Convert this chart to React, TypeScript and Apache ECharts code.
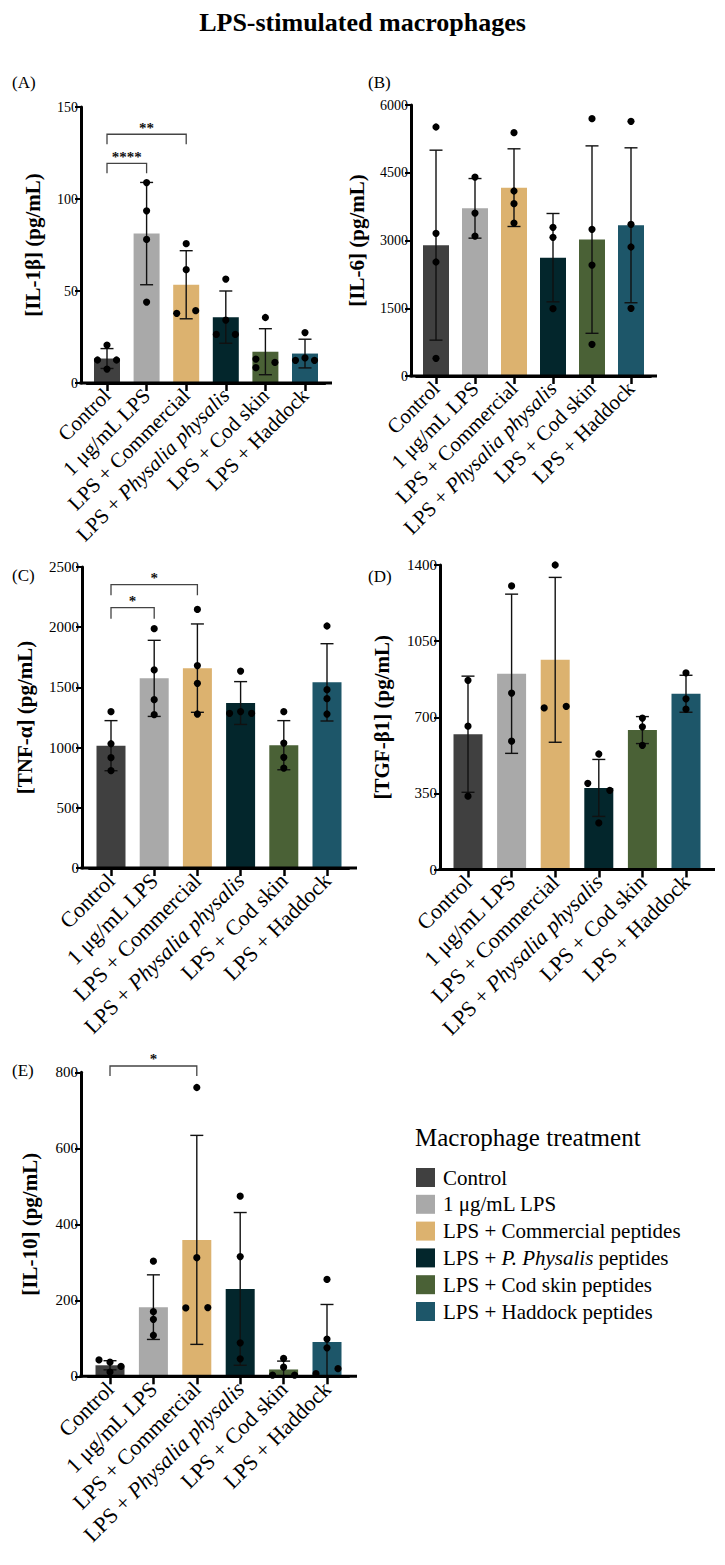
import React, { useEffect, useRef } from 'react';
import * as echarts from 'echarts';

const FONT = 'Liberation Serif';

// ---------- data ----------
const categories = ['Control', '1 μg/mL LPS', 'LPS + Commercial', 'LPS + Physalia physalis', 'LPS + Cod skin', 'LPS + Haddock'];
const legendItems = ['Control', '1 μg/mL LPS', 'LPS + Commercial peptides', 'LPS + {i|P. Physalis} peptides', 'LPS + Cod skin peptides', 'LPS + Haddock peptides'];
const barColors = ['#404040', '#a9a9a9', '#dcb26f', '#03262c', '#4a6136', '#1d5669'];

const yNames = ['[IL-1β] (pg/mL)', '[IL-6] (pg/mL)', '[TNF-α] (pg/mL)', '[TGF-β1] (pg/mL)', '[IL-10] (pg/mL)'];
const yMax = [150, 6000, 2500, 1400, 800];
const yStep = [50, 1500, 500, 350, 200];

const il1bMean = [13.3, 81.2, 53.4, 35.8, 17.0, 16.0];
const il1bSd = [5.4, 27.8, 18.5, 14.2, 12.5, 7.8];
const il1bPoints = [[20.6, 12.5, 12.5, 7.6], [108.9, 93.6, 78, 44], [75.7, 61.6, 37.9, 39.3], [56.5, 34.2, 26.4, 26.4], [35.6, 13, 11.2, 8.3], [27.4, 12.3, 13.6, 12.3]];

const il6Mean = [2897, 3712, 4170, 2620, 3020, 3337];
const il6Sd = [2103, 660, 860, 978, 2075, 1715];
const il6Points = [[5513, 3159, 2524, 391], [4405, 3608, 3099], [5386, 4096, 3815, 3387], [3291, 3070, 1490], [5697, 3247, 2457, 701], [5638, 3358, 2856, 1498]];

const tnfMean = [1016, 1575, 1660, 1370, 1020, 1542];
const tnfSd = [208, 316, 367, 178, 204, 321];
const tnfPoints = [[1298, 1032, 916, 808], [1988, 1645, 1398, 1273], [2148, 1681, 1534, 1279], [1636, 1285, 1299, 1285], [1298, 1038, 919, 830], [2010, 1481, 1406, 1279]];

const tgfMean = [622, 900, 964, 375, 641, 808];
const tgfSd = [267, 366, 379, 131, 62, 85];
const tgfPoints = [[870, 659, 337], [1304, 811, 590], [1400, 743, 750], [531, 396, 364, 214], [696, 656, 571], [904, 785, 737]];

const il10Mean = [29, 182, 359, 230, 18, 90];
const il10Sd = [12, 85, 275, 201, 22, 99];
const il10Points = [[43, 37, 26, 11], [303, 170, 150, 108], [760, 312, 180, 181], [474, 315, 88, 46], [47, 24, 3, 3], [255, 98, 75, 20, 7]];

// significance brackets: [fromIndex, toIndex, lineValue, legBottomValue]
const il1bBrackets = [[0, 1, 119.4, 114], [0, 2, 135.2, 129.7]];
const il1bStars = ['****', '**'];
const tnfBrackets = [[0, 1, 2162, 2071], [0, 2, 2353, 2265]];
const tnfStars = ['*', '*'];
const il10Brackets = [[0, 2, 816.6, 790]];
const il10Stars = ['*'];

// ---------- layout (horizontal jitter of dots, in steps) ----------
const il1bJitter = [[0, -1, 1, 0], [0, 0, 0, 0], [0, 0, -1, 1], [0, 0, -1, 1], [0, -1, 1, -1], [0, -1, 0, 1]];
const il6Jitter = [[0, 0, 0, 0], [0, 0, 0], [0, 0, 0, 0], [0, 0, 0], [0, 0, 0, 0], [0, 0, 0, 0]];
const tnfJitter = [[0, 0, 0, 0], [0, 0, 0, 0], [0, 0, 0, 0], [0, -1, 0, 1], [0, 0, 0, 0], [0, 0, 0, 0]];
const tgfJitter = [[0, 0, 0], [0, 0, 0], [0, -1, 1], [0, -1, 1, 0], [0, 0, 0], [0, 0, 0]];
const il10Jitter = [[-1, 0, 1, 0], [0, 0, 0, 0], [0, 0, -1, 1], [0, 0, 0, 0], [0, 0, -1, 1], [0, 0, 0, 1, -1]];

const panels = [
  { mean: il1bMean, sd: il1bSd, pts: il1bPoints, jitter: il1bJitter, brackets: il1bBrackets, stars: il1bStars },
  { mean: il6Mean, sd: il6Sd, pts: il6Points, jitter: il6Jitter, brackets: [], stars: [] },
  { mean: tnfMean, sd: tnfSd, pts: tnfPoints, jitter: tnfJitter, brackets: tnfBrackets, stars: tnfStars },
  { mean: tgfMean, sd: tgfSd, pts: tgfPoints, jitter: tgfJitter, brackets: [], stars: [] },
  { mean: il10Mean, sd: il10Sd, pts: il10Points, jitter: il10Jitter, brackets: il10Brackets, stars: il10Stars },
];

const layout = [
  { axisX: 81, bandL: 87.2, bandR: 324.8, xEnd: 332, top: 107, bottom: 383, barW: 26, jit: 9.5, nameGap: 38, tickFont: 14, catFont: 21, tag: '(A)', tagX: 12, tagY: 82 },
  { axisX: 411, bandL: 416.5, bandR: 650.5, xEnd: 657, top: 105, bottom: 376, barW: 26, jit: 9.5, nameGap: 44, tickFont: 14, catFont: 21, tag: '(B)', tagX: 368, tagY: 82 },
  { axisX: 82, bandL: 89.4, bandR: 348.6, xEnd: 357, top: 567, bottom: 868, barW: 29, jit: 11, nameGap: 47, tickFont: 15, catFont: 22, tag: '(C)', tagX: 12, tagY: 575 },
  { axisX: 440, bandL: 446.2, bandR: 707.8, xEnd: 715, top: 565, bottom: 869.5, barW: 29, jit: 11, nameGap: 48, tickFont: 15, catFont: 22, tag: '(D)', tagX: 368, tagY: 576 },
  { axisX: 81, bandL: 88.3, bandR: 348.7, xEnd: 357, top: 1072.3, bottom: 1376.3, barW: 29, jit: 11, nameGap: 41, tickFont: 15, catFont: 22, tag: '(E)', tagX: 12, tagY: 1070 },
];

function buildOption() {
  const grid: any[] = [];
  const xAxis: any[] = [];
  const yAxis: any[] = [];
  const series: any[] = [];
  const graphic: any[] = [];

  panels.forEach((p, i) => {
    const L = layout[i];
    grid.push({ left: L.bandL, top: L.top, width: L.bandR - L.bandL, height: L.bottom - L.top, outerBoundsMode: 'none', containLabel: false });
    xAxis.push({
      type: 'category', gridIndex: i, data: categories,
      axisLine: { show: true, lineStyle: { color: '#000', width: 3 } },
      axisTick: { show: true, alignWithLabel: true, length: 8, lineStyle: { color: '#000', width: 2.5 } },
      axisLabel: {
        interval: 0, rotate: 45, margin: 9, color: '#000', fontFamily: FONT, fontSize: L.catFont,
        formatter: (v: string) => (v === 'LPS + Physalia physalis' ? 'LPS + {i|Physalia physalis}' : v),
        rich: { i: { fontStyle: 'italic', fontFamily: FONT, fontSize: L.catFont, color: '#000' } },
      },
    });
    yAxis.push({
      type: 'value', gridIndex: i, min: 0, max: yMax[i], interval: yStep[i], offset: L.bandL - L.axisX,
      axisLine: { show: true, lineStyle: { color: '#000', width: 3 } },
      axisTick: { show: true, length: 6, lineStyle: { color: '#000', width: 2 } },
      axisLabel: { color: '#000', fontFamily: FONT, fontSize: L.tickFont, margin: 3, formatter: (v: number) => String(v) },
      splitLine: { show: false },
      name: yNames[i], nameLocation: 'middle', nameGap: L.nameGap, nameMoveOverlap: false,
      nameTextStyle: { color: '#000', fontFamily: FONT, fontSize: 21, fontWeight: 'bold' },
    });

    series.push({
      type: 'bar', xAxisIndex: i, yAxisIndex: i, barWidth: L.barW, z: 2,
      data: p.mean.map((m, k) => ({ value: m, itemStyle: { color: barColors[k] } })),
    });

    series.push({
      type: 'custom', xAxisIndex: i, yAxisIndex: i, z: 3,
      data: p.mean.map((m, k) => [k, m - p.sd[k], m + p.sd[k]]),
      renderItem: (params: any, api: any) => {
        const k = api.value(0);
        const lo = api.value(1);
        const hi = api.value(2);
        const pt = api.coord([k, hi]);
        const pb = api.coord([k, Math.max(lo, 0)]);
        const hw = 6.5;
        const st = { stroke: '#111', lineWidth: 1.4 };
        const children: any[] = [
          { type: 'line', shape: { x1: pt[0], y1: pt[1], x2: pb[0], y2: pb[1] }, style: st },
          { type: 'line', shape: { x1: pt[0] - hw, y1: pt[1], x2: pt[0] + hw, y2: pt[1] }, style: st },
        ];
        if (lo > 0) children.push({ type: 'line', shape: { x1: pb[0] - hw, y1: pb[1], x2: pb[0] + hw, y2: pb[1] }, style: st });
        return { type: 'group', children };
      },
    });

    const dots: any[] = [];
    p.pts.forEach((arr, k) => arr.forEach((v, j) => dots.push([k, v, p.jitter[k][j]])));
    series.push({
      type: 'custom', xAxisIndex: i, yAxisIndex: i, z: 4,
      data: dots,
      renderItem: (params: any, api: any) => {
        const c = api.coord([api.value(0), api.value(1)]);
        return { type: 'circle', shape: { cx: c[0] + api.value(2) * L.jit, cy: c[1], r: 3.6 }, style: { fill: '#000' } };
      },
    });

    if (p.brackets.length) {
      series.push({
        type: 'custom', xAxisIndex: i, yAxisIndex: i, z: 5, clip: false,
        data: p.brackets,
        renderItem: (params: any, api: any) => {
          const a = api.coord([api.value(0), api.value(2)]);
          const b = api.coord([api.value(1), api.value(2)]);
          const legY = api.coord([api.value(0), api.value(3)])[1];
          return {
            type: 'group',
            children: [
              { type: 'polyline', shape: { points: [[a[0], legY], a, b, [b[0], legY]] }, style: { stroke: '#444', lineWidth: 1.3, fill: null } },
              { type: 'text', x: (a[0] + b[0]) / 2, y: a[1] + 1, style: { text: p.stars[params.dataIndex], fill: '#111', fontFamily: FONT, fontSize: 15, fontWeight: 'bold', align: 'center', verticalAlign: 'bottom' } },
            ],
          };
        },
      });
    }

    graphic.push({ type: 'line', shape: { x1: L.axisX - 1.5, y1: L.bottom, x2: L.xEnd, y2: L.bottom }, style: { stroke: '#000', lineWidth: 3 }, z: 10 });
    graphic.push({ type: 'text', x: L.tagX, y: L.tagY, style: { text: L.tag, fill: '#000', fontFamily: FONT, fontSize: 17, verticalAlign: 'middle' } });
  });

  graphic.push({ type: 'text', x: 362.5, y: 22, style: { text: 'LPS-stimulated macrophages', fill: '#000', fontFamily: FONT, fontSize: 26, fontWeight: 'bold', align: 'center', verticalAlign: 'middle' } });
  graphic.push({ type: 'text', x: 415, y: 1137, style: { text: 'Macrophage treatment', fill: '#000', fontFamily: FONT, fontSize: 25, verticalAlign: 'middle' } });
  legendItems.forEach((t, k) => {
    const cy = 1177.5 + k * 26.8;
    graphic.push({ type: 'rect', shape: { x: 416, y: cy - 9.5, width: 19, height: 19 }, style: { fill: barColors[k] } });
    graphic.push({
      type: 'text', x: 443, y: cy, style: {
        text: t, fill: '#000', fontFamily: FONT, fontSize: 21, verticalAlign: 'middle',
        rich: { i: { fontStyle: 'italic', fontFamily: FONT, fontSize: 21, fill: '#000' } },
      },
    });
  });

  return { animation: false, backgroundColor: '#fff', grid, xAxis, yAxis, series, graphic };
}

export default function App() {
  const ref = useRef<HTMLDivElement>(null);
  useEffect(() => {
    const chart = echarts.init(ref.current as HTMLDivElement, null, { renderer: 'svg' });
    chart.setOption(buildOption() as any);
    return () => chart.dispose();
  }, []);
  return <div ref={ref} style={{ position: 'absolute', left: 0, top: 0, width: 725, height: 1565, background: '#fff' }} />;
}
